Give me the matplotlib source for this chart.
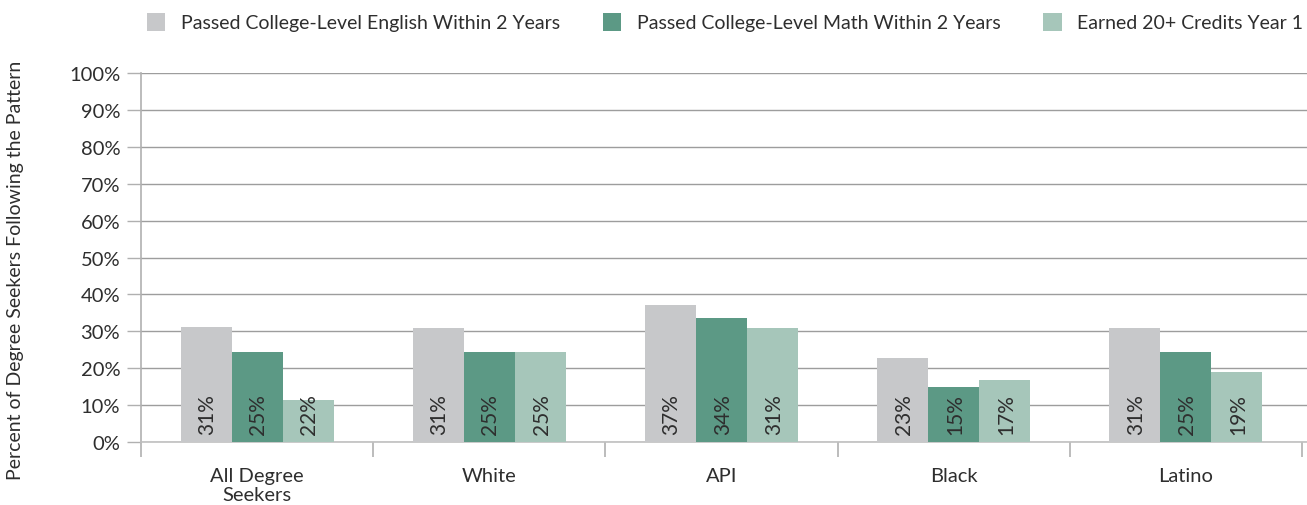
import matplotlib
matplotlib.use("Agg")
import numpy as np
import matplotlib.pyplot as plt
from matplotlib.ticker import FixedLocator, PercentFormatter

plt.rcParams['font.family'] = ['Lato', 'DejaVu Sans']

# данные
categories = ["All Degree\nSeekers", "White", "API", "Black", "Latino"]
series_names = ["Passed College-Level English Within 2 Years",
                "Passed College-Level Math Within 2 Years",
                "Earned 20+ Credits Year 1"]
english = [31.3, 31, 37.2, 22.8, 31]
math = [24.5, 24.5, 33.6, 14.8, 24.5]
credits = [11.5, 24.5, 31, 16.9, 19]
english_labels = ["31%", "31%", "37%", "23%", "31%"]
math_labels = ["25%", "25%", "34%", "15%", "25%"]
credits_labels = ["22%", "25%", "31%", "17%", "19%"]

colors = ["#c7c8ca", "#5c9985", "#a6c6ba"]
text_col = "#2e2e2e"
grid_col = "#9d9d9d"

W, H = 1307, 506
fig = plt.figure(figsize=(W / 100, H / 100), dpi=100)
ax = fig.add_axes([141 / W, (H - 443) / H, 1 - 141 / W, (443 - 74) / H])

x = np.arange(len(categories))
bw = 51 / 232
for i, (vals, labs) in enumerate([(english, english_labels),
                                   (math, math_labels),
                                   (credits, credits_labels)]):
    pos = x + (i - 1) * bw
    ax.bar(pos, vals, width=bw, color=colors[i], label=series_names[i], zorder=3)
    for p, lab in zip(pos, labs):
        ax.text(p + 0.005, 2.2, lab, rotation=90, ha="center", va="bottom",
                fontsize=15, color=text_col, zorder=4)

ax.set_xlim(-0.5, 4.5 + 5 / 232)
ax.set_ylim(0, 100)
ax.yaxis.set_major_locator(FixedLocator(np.arange(0, 101, 10)))
ax.yaxis.set_major_formatter(PercentFormatter(decimals=0))
ax.grid(axis="y", color=grid_col, linewidth=1, zorder=0)
ax.set_axisbelow(True)

ax.set_xticks(x)
ax.set_xticklabels(categories, fontsize=14.5, color=text_col, linespacing=1.15)
ax.set_xticks(np.arange(-0.5, 5, 1), minor=True)
ax.tick_params(axis="x", which="major", length=0, pad=18)
ax.tick_params(axis="x", which="minor", length=11, width=1.2, color="#b0b0b0")
ax.tick_params(axis="y", length=10, width=1, color="#b0b0b0", labelsize=14.5,
               labelcolor=text_col, pad=5)

for s in ["top", "right"]:
    ax.spines[s].set_visible(False)
ax.spines["left"].set_color("#b0b0b0")
ax.spines["left"].set_linewidth(1.2)
ax.spines["bottom"].set_color("#c0c0c0")
ax.spines["bottom"].set_linewidth(1.2)

fig.text(16 / W, 1 - 270 / H, "Percent of Degree Seekers Following the Pattern",
         rotation=90, ha="center", va="center", fontsize=14, color=text_col)

fig.legend(loc="upper left", bbox_to_anchor=(133 / W, 1.0), ncol=3,
           frameon=False, fontsize=14, handlelength=0.95, handleheight=1.05,
           handletextpad=0.8, columnspacing=2.2, labelcolor=text_col,
           borderaxespad=0.3)

fig.savefig("out.png", dpi=100)
